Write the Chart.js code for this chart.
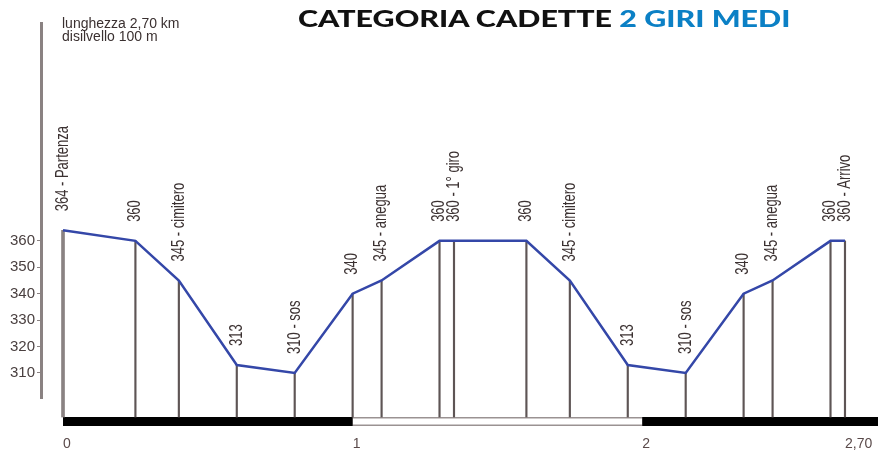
<!doctype html>
<html lang="it">
<head>
<meta charset="utf-8">
<title>Categoria Cadette 2 giri medi</title>
<script src="https://cdn.jsdelivr.net/npm/chart.js@4.4.1/dist/chart.umd.min.js"></script>
<style>
  body{margin:0;background:#fff}
  .wrap{position:relative;width:883px;height:455px;overflow:hidden}
  canvas{position:absolute;left:0;top:0}
  .info{position:absolute;left:62px;top:17px;font:14px/12.5px "Liberation Sans",Arial,sans-serif;color:#3a3030;transform-origin:0 0;white-space:nowrap}
  .info div{display:block}
  .title{position:absolute;left:298px;top:7px;font:900 23px/23px Lato,"Open Sans",sans-serif;color:#111;transform-origin:0 0;white-space:nowrap;display:inline-block}
  .title .blu{color:#0b80c5}
</style>
</head>
<body>
<div class="wrap">
  <canvas id="profile" width="883" height="455"></canvas>
  <div class="info" id="info"><div id="info1">lunghezza 2,70 km</div><div>disilvello 100 m</div></div>
  <div class="title" id="title">CATEGORIA CADETTE <span class="blu">2 GIRI MEDI</span></div>
</div>
<script>
  // route profile: distance (km) and altitude (m) at each marked point
  const kmPoints = [0, 0.25, 0.40, 0.60, 0.80, 1.00, 1.10, 1.30, 1.35, 1.60, 1.75, 1.95, 2.15, 2.35, 2.45, 2.65, 2.70];
  const elevations = [364, 360, 345, 313, 310, 340, 345, 360, 360, 360, 345, 313, 310, 340, 345, 360, 360];
  const pointLabels = ["364 - Partenza", "360", "345 - cimitero", "313", "310 - sos", "340", "345 - anegua", "360", "360 - 1° giro",
                       "360", "345 - cimitero", "313", "310 - sos", "340", "345 - anegua", "360", "360 - Arrivo"];
  const yTicks = [310, 320, 330, 340, 350, 360];
  const xTicks = [0, 1, 2, 2.7];
  const xTickLabels = ["0", "1", "2", "2,70"];
  const kmBar = [0, 1, 2, 2.814]; // black / white / black stripe under the profile

  const DROP_BASE = 293.3; // where the verticals meet the km stripe
  const BAR_Y = 291.6;     // centre line of the km stripe

  const seg = (a, b) => [{ x: a, y: BAR_Y }, { x: b, y: BAR_Y }];

  const pointLabelPlugin = {
    id: "pointLabels",
    afterDatasetsDraw(chart) {
      const meta = chart.getDatasetMeta(0);
      const ctx = chart.ctx;
      ctx.save();
      ctx.font = '13px "Liberation Sans", Arial, sans-serif';
      ctx.fillStyle = "#3b3131";
      ctx.textAlign = "left";
      ctx.textBaseline = "middle";
      meta.data.forEach((pt, i) => {
        ctx.save();
        ctx.translate(pt.x, pt.y - 19);
        ctx.scale(1.35, 1);
        ctx.rotate(-Math.PI / 2);
        ctx.fillText(pointLabels[i], 0, 0);
        ctx.restore();
      });
      ctx.restore();
    }
  };

  new Chart(document.getElementById("profile"), {
    type: "line",
    data: {
      datasets: [
        { type: "line", data: kmPoints.map((x, i) => ({ x, y: elevations[i] })), borderColor: "#3447a8", borderWidth: 2.5, pointRadius: 0, tension: 0, order: 0 },
        { type: "bar", data: kmPoints.slice(1).map((x, i) => ({ x, y: [DROP_BASE, elevations[i + 1]] })), backgroundColor: "#5e5555", barThickness: 1.5, grouped: false, clip: false, order: 1 },
        { type: "bar", data: [{ x: kmPoints[0], y: [DROP_BASE, elevations[0]] }], backgroundColor: "#8a8282", barThickness: 3, grouped: false, clip: false, order: 1 },
        { type: "line", data: seg(kmBar[0], kmBar[1]), borderColor: "#000", borderWidth: 9, pointRadius: 0, clip: false, order: 2 },
        { type: "line", data: seg(kmBar[2], kmBar[3]), borderColor: "#000", borderWidth: 9, pointRadius: 0, clip: false, order: 2 },
        { type: "line", data: seg(kmBar[1], kmBar[2]), borderColor: "#fff", borderWidth: 6, pointRadius: 0, clip: false, order: 3 },
        { type: "line", data: seg(kmBar[0], kmBar[3]), borderColor: "#9a9292", borderWidth: 9, pointRadius: 0, clip: false, order: 4 }
      ]
    },
    options: {
      responsive: false,
      animation: false,
      layout: { autoPadding: false, padding: { top: 23, right: 5, left: 0, bottom: 0 } },
      plugins: { legend: { display: false }, tooltip: { enabled: false } },
      scales: {
        x: {
          type: "linear", min: -0.076, max: 2.814, offset: false,
          afterBuildTicks: (s) => { s.ticks = xTicks.map(v => ({ value: v })); },
          afterFit: (s) => { s.height = 57; s.paddingLeft = 0; s.paddingRight = 0; },
          grid: { display: false, drawTicks: false },
          border: { display: false },
          ticks: { align: "start", padding: 38, maxRotation: 0, autoSkip: false, color: "#5a4a4a",
                   font: { family: "'Liberation Sans', Arial, sans-serif", size: 14 },
                   callback: (v, i) => xTickLabels[i] }
        },
        y: {
          min: 300.5, max: 442.5,
          afterBuildTicks: (s) => { s.ticks = yTicks.map(v => ({ value: v })); },
          afterFit: (s) => { s.width = 41; },
          grid: { drawOnChartArea: false, drawTicks: true, tickLength: 4, color: "#8a8282" },
          border: { display: true, color: "#8a8282", width: 3 },
          ticks: { padding: 2, color: "#4a4040", font: { family: "'Liberation Sans', Arial, sans-serif", size: 15 } }
        }
      }
    },
    plugins: [pointLabelPlugin]
  });

  // the reference lettering is stretched horizontally; fit the text blocks to their widths
  const fit = () => {
    const t = document.getElementById("title");
    t.style.transform = "scaleX(" + (492 / t.offsetWidth) + ")";
    const r = document.createRange();
    r.selectNodeContents(document.getElementById("info1"));
    document.getElementById("info").style.transform = "scaleX(" + (141 / r.getBoundingClientRect().width) + ")";
  };
  fit();
  if (document.fonts) document.fonts.ready.then(fit);
</script>
</body>
</html>
